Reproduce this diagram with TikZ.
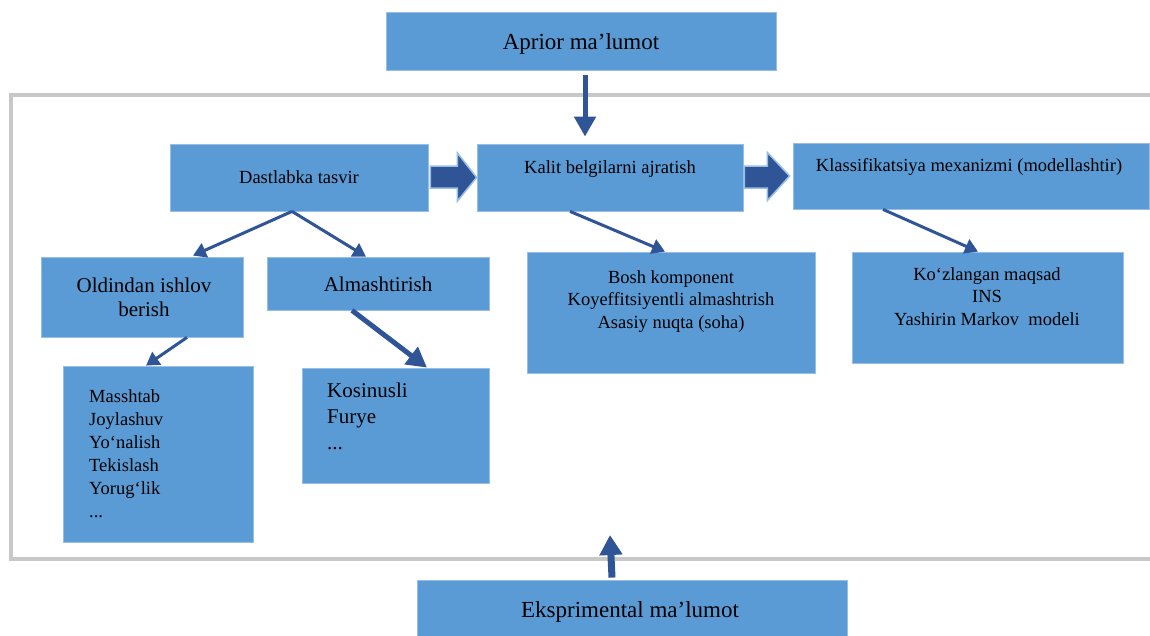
\documentclass[tikz,border=0pt]{standalone}
\usepackage{fontspec}
\setmainfont{Liberation Serif}
\usetikzlibrary{arrows.meta,calc}
\definecolor{boxblue}{RGB}{91,155,213}
\definecolor{boxedge}{RGB}{150,190,230}
\definecolor{arrblue}{RGB}{47,85,151}
\definecolor{framegray}{RGB}{200,200,200}
\begin{document}
\begin{tikzpicture}[x=1pt,y=-1pt,
  box/.style={fill=boxblue, draw=boxedge, line width=0.8pt, inner sep=0},
  txt/.style={inner sep=0, text=black, font=\fontsize{18.5}{23}\selectfont},
  midtxt/.style={inner sep=0, text=black, font=\fontsize{21}{24}\selectfont},
  bigtxt/.style={inner sep=0, text=black, font=\fontsize{23}{26}\selectfont},
  conn/.style={draw=arrblue, line width=3pt, -{Triangle[length=13pt,width=15pt]}},
  thickconn/.style={draw=arrblue, line width=5pt, -{Triangle[length=20pt,width=21pt]}},
  blockarrow/.style={fill=arrblue, draw=boxedge, line width=1.5pt, line join=miter}
]
\useasboundingbox (0,0) rectangle (1150,635);
% frame
\draw[framegray, line width=4pt] (1155,95) -- (11,95) -- (11,559) -- (1155,559);

% boxes
\node[box, minimum width=390, minimum height=58] (apr) at (581,41) {};
\node[box, minimum width=258, minimum height=67] (dast) at (299,177.5) {};
\node[box, minimum width=266, minimum height=67] (kalit) at (610,177.5) {};
\node[box, minimum width=356, minimum height=66] (klass) at (971,176) {};
\node[box, minimum width=202, minimum height=80] (old) at (142,297) {};
\node[box, minimum width=222, minimum height=53] (alm) at (378,283.5) {};
\node[box, minimum width=190, minimum height=176] (mass) at (158,454) {};
\node[box, minimum width=187, minimum height=115] (kos) at (395.5,425.5) {};
\node[box, minimum width=288, minimum height=121] (bosh) at (671,312.5) {};
\node[box, minimum width=271, minimum height=111] (koz) at (987.5,307.5) {};
\node[box, minimum width=430, minimum height=62] (eks) at (632,611) {};

% texts (anchor=base refers to the last line)
\node[bigtxt, anchor=base] (aprT) at (581,49) {Aprior ma’lumot};
\node[txt, anchor=base] (dastT) at (299,183) {Dastlabka tasvir};
\node[txt, anchor=base] (kalitT) at (610,173) {Kalit belgilarni ajratish};
\node[txt, anchor=base] (klassT) at (969,171) {Klassifikatsiya mexanizmi (modellashtir)};
\node[midtxt, anchor=base, align=center] (oldT) at (144,316) {Oldindan ishlov\\berish};
\node[midtxt, anchor=base] (almT) at (378,291) {Almashtirish};
\node[txt, anchor=base west, align=left] (massT) at (89,517) {Masshtab\\Joylashuv\\Yo‘nalish\\Tekislash\\Yorug‘lik\\...};
\node[midtxt, anchor=base west, align=left, font=\fontsize{21}{26}\selectfont] (kosT) at (327,449) {Kosinusli\\Furye\\...};
\node[txt, anchor=base, align=center, font=\fontsize{18.5}{22.5}\selectfont] (boshT) at (671,328) {Bosh komponent\\Koyeffitsiyentli almashtrish\\Asasiy nuqta (soha)};
\node[txt, anchor=base, align=center, font=\fontsize{18.5}{22.5}\selectfont] (kozT) at (987,325) {Ko‘zlangan maqsad\\INS\\Yashirin Markov~ modeli};
\node[bigtxt, anchor=base] (eksT) at (630,617) {Eksprimental ma’lumot};

% block arrows
\draw[blockarrow] ($(dast.east)+(2,-11.5)$) -- ($(dast.east)+(29,-11.5)$) -- ($(dast.east)+(29,-24.5)$)
  -- (kalit.west) -- ($(dast.east)+(29,23.5)$) -- ($(dast.east)+(29,10.5)$) -- ($(dast.east)+(2,10.5)$) -- cycle;
\draw[blockarrow] ($(kalit.east)+(1,-11.5)$) -- ($(kalit.east)+(24,-11.5)$) -- ($(kalit.east)+(24,-25)$)
  -- ($(klass.west)+(-3,0)$) -- ($(kalit.east)+(24,23)$) -- ($(kalit.east)+(24,10.5)$) -- ($(kalit.east)+(1,10.5)$) -- cycle;

% connectors
\draw[thickconn] ($(apr.south)+(4,5)$) -- ($(kalit.north)+(-25,-7)$);
\draw[conn] ($(dast.south)+(-7,0)$) -- ($(old.north)+(51,-1)$);
\draw[conn] ($(dast.south)+(-7,0)$) -- ($(alm.north)+(-12,0)$);
\draw[conn] ($(old.south)+(45,0)$) -- ($(mass.north)+(-12,0)$);
\draw[thickconn] ($(alm.south)+(-26,0)$) -- ($(kos.north)+(31.5,0)$);
\draw[conn] ($(kalit.south)+(-40,0)$) -- ($(bosh.north)+(-6,0)$);
\draw[conn] ($(klass.south)+(-88,0)$) -- ($(koz.north)+(-9.5,0)$);
\coordinate (upTip) at (610,535);
\draw[draw=arrblue, line width=7pt, -{Triangle[length=20pt,width=22pt]}] ($(eks.north)+(-20,-2)$) -- (upTip);
\end{tikzpicture}
\end{document}
